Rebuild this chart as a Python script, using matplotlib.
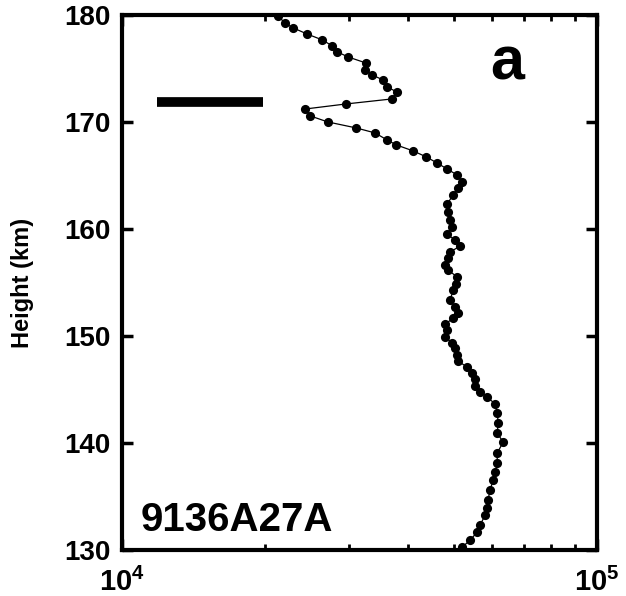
#!/usr/bin/env python3
# Height profile of a log-scale quantity (radar run 9136A27A), panel a.

import numpy as np
import matplotlib
matplotlib.use('Agg')
import matplotlib.pyplot as plt
from matplotlib.ticker import LogLocator, NullFormatter

# profile, top to bottom
value = [21300, 22000, 22900, 24500, 26400, 27700, 28400, 29900, 32600, 32500,
         33600, 35400, 36100, 37900, 37000, 29600, 24300, 24900, 27100, 31100,
         34100, 36100, 37800, 41000, 43700, 46000, 48300, 50700, 52000, 51000,
         49800, 48300, 48600, 49000, 49500, 48300, 50200, 51500, 49000, 48600,
         47900, 48600, 50700, 50500, 49800, 49000, 50200, 51000, 49800, 47900,
         48300, 47900, 49500, 50200, 50700, 51000, 53200, 54600, 55400, 55400,
         56700, 58700, 61000, 61600, 61900, 61600, 63400, 61600, 61600, 61000,
         60400, 59500, 58900, 58700, 58100, 56700, 55900, 54000, 52000]
height = [179.91, 179.25, 178.79, 178.22, 177.66, 177.10, 176.54, 176.07, 175.51, 174.86,
          174.39, 173.93, 173.27, 172.80, 172.15, 171.68, 171.21, 170.56, 170.00, 169.44,
          168.97, 168.32, 167.85, 167.29, 166.73, 166.17, 165.61, 165.05, 164.39, 163.83,
          163.18, 162.34, 161.59, 160.84, 160.19, 159.53, 158.97, 158.41, 157.85, 157.29,
          156.64, 156.17, 155.51, 154.86, 154.30, 153.36, 152.71, 152.15, 151.68, 151.12,
          150.56, 149.91, 149.35, 148.88, 148.22, 147.66, 147.10, 146.54, 145.98, 145.33,
          144.77, 144.30, 143.64, 142.80, 141.87, 140.93, 140.09, 139.07, 138.13, 137.29,
          136.54, 135.61, 134.67, 133.93, 133.27, 132.34, 131.68, 130.93, 130.28]

# resolution bar
bar_x = [11850, 19800]
bar_h = [171.9, 171.9]

y_ticks = [130, 140, 150, 160, 170, 180]
x_ticks = [1e4, 1e5]
x_ticklabels = [r'$\mathbf{10^{4}}$', r'$\mathbf{10^{5}}$']

plt.rcParams['font.family'] = ['Liberation Sans', 'DejaVu Sans']
plt.rcParams['font.weight'] = 'bold'
plt.rcParams['mathtext.fontset'] = 'custom'
plt.rcParams['mathtext.bf'] = 'Liberation Sans:bold'
plt.rcParams['mathtext.rm'] = 'Liberation Sans:bold'

fig = plt.figure(figsize=(6.26, 5.96), dpi=100)
ax = fig.add_axes([0.195, 0.077, 0.759, 0.898])

ax.plot(value, height, color='black', linewidth=0.9, marker='o',
        markersize=6.6, markeredgewidth=0, clip_on=True)
ax.plot(bar_x, bar_h, color='black', linewidth=7, solid_capstyle='butt')

ax.set_xscale('log')
ax.set_xlim(1e4, 1e5)
ax.set_ylim(130, 180)

ax.set_yticks(y_ticks)
ax.set_yticklabels([str(t) for t in y_ticks])
ax.set_xticks(x_ticks)
ax.set_xticklabels(x_ticklabels)
ax.xaxis.set_minor_locator(LogLocator(base=10, subs=np.arange(2, 10)))
ax.xaxis.set_minor_formatter(NullFormatter())

ax.tick_params(axis='both', which='major', direction='in', length=8, width=2.5,
               labelsize=20, pad=8, top=True, right=True)
ax.tick_params(axis='x', which='major', pad=13, labelsize=21)
ax.tick_params(axis='x', which='minor', direction='in', length=4, width=2,
               top=True, bottom=True)
for s in ax.spines.values():
    s.set_linewidth(3)

ax.set_ylabel('Height (km)', fontsize=17, fontweight='bold', labelpad=22)

ax.text(0.775, 0.88, 'a', transform=ax.transAxes, fontsize=44, fontweight='bold')
ax.text(0.038, 0.035, '9136A27A', transform=ax.transAxes, fontsize=29, fontweight='bold')

fig.savefig('out.png', dpi=100)
